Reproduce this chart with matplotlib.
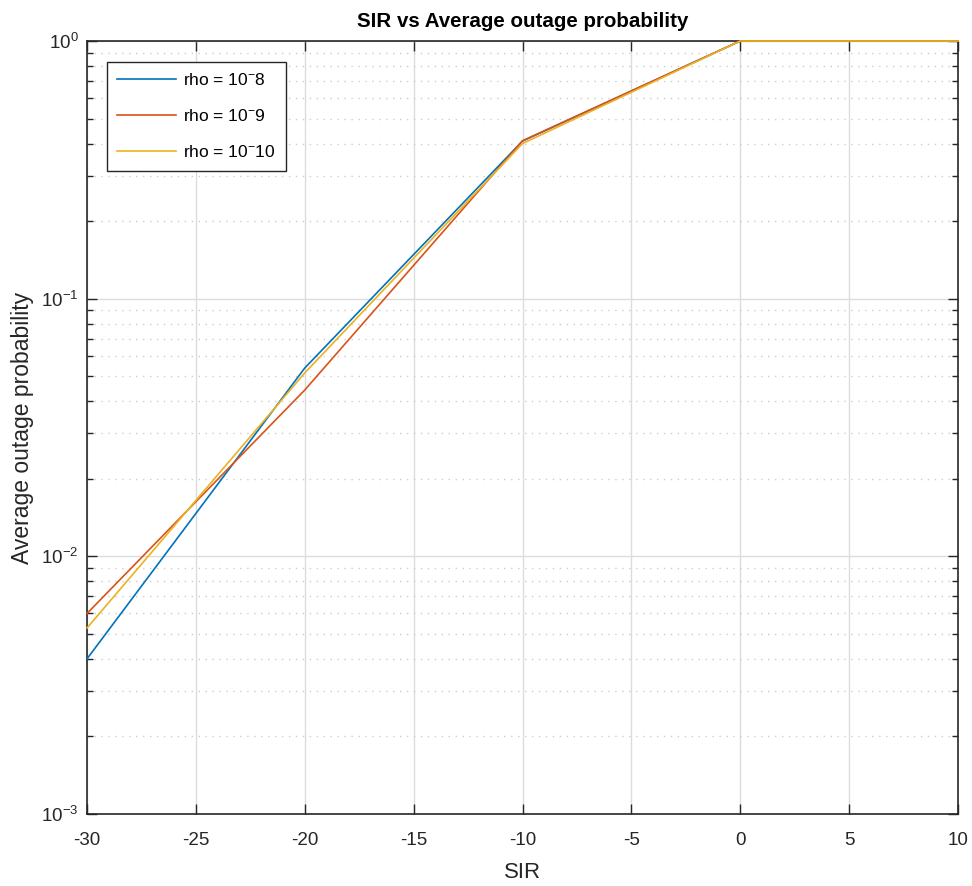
import matplotlib
matplotlib.use("Agg")
import matplotlib.pyplot as plt
from matplotlib.ticker import LogLocator, FixedLocator, NullFormatter

plt.rcParams['font.family'] = ['Liberation Sans', 'DejaVu Sans']
plt.rcParams['mathtext.fontset'] = 'custom'
plt.rcParams['mathtext.rm'] = 'Liberation Sans'
plt.rcParams['mathtext.it'] = 'Liberation Sans'
plt.rcParams['mathtext.bf'] = 'Liberation Sans:bold'
plt.rcParams['axes.unicode_minus'] = False

sir = [-30, -20, -10, 0, 10]
p_rho8 = [0.0040, 0.0538, 0.409, 1.0, 1.0]
p_rho9 = [0.0060, 0.0442, 0.410, 1.0, 1.0]
p_rho10 = [0.00527, 0.0515, 0.400, 1.0, 1.0]
labels = [r'rho = 10$^{-}$8', r'rho = 10$^{-}$9', r'rho = 10$^{-}$10']
colors = ['#0072BD', '#D95319', '#EDB120']

fig = plt.figure(figsize=(9.72, 8.86), dpi=100)
ax = fig.add_axes([87/972, 1-814/886, (958-87)/972, (814-41)/886])

for y, lab, c in zip([p_rho8, p_rho9, p_rho10], labels, colors):
    ax.plot(sir, y, color=c, lw=1.2, label=lab, clip_on=False, zorder=3)

ax.set_yscale('log')
ax.set_xlim(-30, 10)
ax.set_ylim(1e-3, 1)
ax.xaxis.set_major_locator(FixedLocator(list(range(-30, 11, 5))))
ax.yaxis.set_major_locator(LogLocator(base=10, numticks=10))
ax.yaxis.set_minor_locator(LogLocator(base=10, subs=range(2, 10), numticks=20))
ax.yaxis.set_minor_formatter(NullFormatter())

ax.grid(True, which='major', color='#DCDCDC', lw=1.0, ls='-')
ax.grid(True, which='minor', axis='y', color='#CCCCCC', lw=1.0, ls=(0, (1, 4)))
ax.set_axisbelow(True)

ax.tick_params(which='both', direction='in', top=True, right=True, labelsize=13.5, colors='#262626', width=1.0)
ax.tick_params(which='major', length=7)
ax.tick_params(which='minor', length=4)
ax.tick_params(axis='x', which='major', pad=13)
ax.tick_params(axis='y', which='major', pad=6)
for s in ax.spines.values():
    s.set_color('#262626')
    s.set_linewidth(1.2)

ax.set_title('SIR vs Average outage probability', fontsize=14.8, fontweight='bold', color='black', pad=10)
ax.set_xlabel('SIR', fontsize=16, color='#262626', labelpad=9)
ax.set_ylabel('Average outage probability', fontsize=16.5, color='#262626', labelpad=5)

leg = ax.legend(loc='upper left', bbox_to_anchor=(0.023, 0.973), fontsize=12.5, fancybox=False,
                edgecolor='#262626', framealpha=1, handlelength=3.4, borderpad=0.6, labelspacing=1.15,
                borderaxespad=0, handletextpad=0.4)
leg.get_frame().set_linewidth(1.0)

fig.savefig('out.png', dpi=100)
